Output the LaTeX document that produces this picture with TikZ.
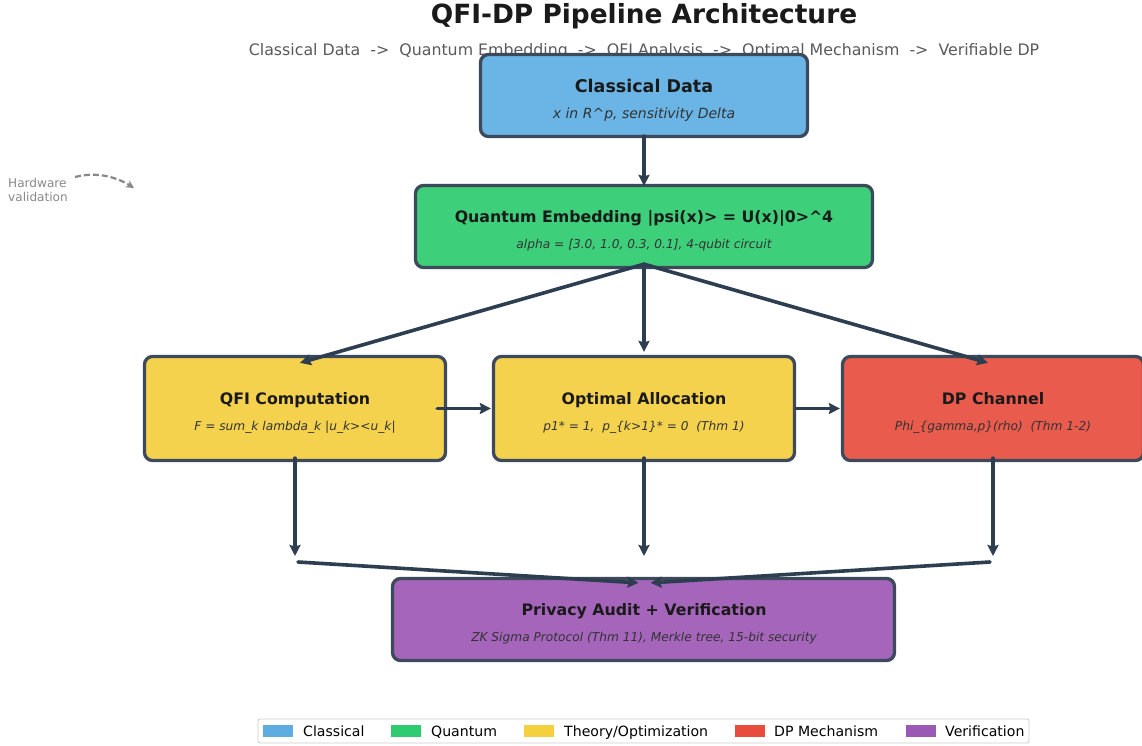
\documentclass[tikz,border=0pt]{standalone}
\usepackage{fontspec}
\setmainfont{DejaVu Sans}
\usetikzlibrary{arrows.meta,calc}
\definecolor{cClass}{HTML}{6AB4E6}
\definecolor{cQuant}{HTML}{3ECF7A}
\definecolor{cTheory}{HTML}{F4D24E}
\definecolor{cDP}{HTML}{E85B4D}
\definecolor{cVer}{HTML}{A465BB}
\definecolor{lClass}{HTML}{5DADE2}
\definecolor{lQuant}{HTML}{2ECC71}
\definecolor{lTheory}{HTML}{F4D03F}
\definecolor{lDP}{HTML}{E74C3C}
\definecolor{lVer}{HTML}{9B59B6}
\definecolor{border}{HTML}{3D4A5C}
\definecolor{arrowc}{HTML}{2C3E50}
\definecolor{titlec}{HTML}{1A1A1A}
\definecolor{subc}{HTML}{5A5A5A}
\definecolor{labc}{HTML}{333333}
\definecolor{notec}{HTML}{888888}
\tikzset{
  stagebox/.style={draw=border, line width=3.3pt, rounded corners=8pt, inner sep=0pt},
  boxtitle/.style={font=\bfseries\fontsize{15.8}{19}\selectfont, text=titlec, inner sep=0pt, text height=11.5pt, text depth=0pt},
  boxsub/.style={font=\itshape\fontsize{12.2}{15}\selectfont, text=labc, inner sep=0pt, text height=8.9pt, text depth=0pt},
  flow/.style={draw=arrowc, line width=3.6pt, line cap=round, -{Stealth[length=11pt,width=11pt,inset=1.5pt]}},
  legpatch/.style={minimum width=30pt, minimum height=12pt, inner sep=0pt},
  legtext/.style={font=\fontsize{14.1}{16}\selectfont, anchor=west, inner sep=0pt, text=black, text height=10.3pt, text depth=0pt},
}
\begin{document}
\begin{tikzpicture}[x=1pt,y=-1pt]
\useasboundingbox (0,0) rectangle (1142,746);
\fill[white] (0,0) rectangle (1142,746);
% title
\node[font=\bfseries\fontsize{26.4}{30}\selectfont, text=titlec, inner sep=0pt, text height=19.3pt, text depth=0pt] (title) at (644,14) {QFI-DP Pipeline Architecture};
\node[font=\fontsize{15.8}{18}\selectfont, text=subc, inner sep=0pt, text height=11.5pt, text depth=0pt] (subtitle) at (644,50) {Classical Data\ \ ->\ \ Quantum Embedding\ \ ->\ \ QFI Analysis\ \ ->\ \ Optimal Mechanism\ \ ->\ \ Verifiable DP};
% boxes
\node[stagebox, fill=cClass, minimum width=327pt, minimum height=82pt] (cd) at (644,95.5) {};
\node[boxtitle, font=\bfseries\fontsize{17.5}{21}\selectfont, text height=12.8pt] (cdt) at (644,86) {Classical Data};
\node[boxsub, font=\itshape\fontsize{14}{16}\selectfont, text height=10.2pt] (cds) at (644,113) {x in R\^{}p, sensitivity Delta};

\node[stagebox, fill=cQuant, minimum width=457pt, minimum height=82pt] (qe) at (644,226.5) {};
\node[boxtitle] (qet) at (644,217) {Quantum Embedding |psi(x)> = U(x)|0>\^{}4};
\node[boxsub] (qes) at (644,244) {alpha = [3.0, 1.0, 0.3, 0.1], 4-qubit circuit};

\node[stagebox, fill=cTheory, minimum width=301pt, minimum height=104pt] (qfi) at (295,408.5) {};
\node[boxtitle] (qfit) at (295,399) {QFI Computation};
\node[boxsub] (qfis) at (295,426) {F = sum\_k lambda\_k |u\_k><u\_k|};

\node[stagebox, fill=cTheory, minimum width=301pt, minimum height=104pt] (oa) at (644,408.5) {};
\node[boxtitle] (oat) at (644,399) {Optimal Allocation};
\node[boxsub] (oas) at (644,426) {p1* = 1,\ \ p\_\{k>1\}* = 0\ \ (Thm 1)};

\node[stagebox, fill=cDP, minimum width=301pt, minimum height=104pt] (dp) at (993,408.5) {};
\node[boxtitle] (dpt) at (993,399) {DP Channel};
\node[boxsub] (dps) at (993,426) {Phi\_\{gamma,p\}(rho)\ \ (Thm 1-2)};

\node[stagebox, fill=cVer, minimum width=502pt, minimum height=82pt] (pa) at (643.5,619.5) {};
\node[boxtitle] (pat) at (644,610) {Privacy Audit + Verification};
\node[boxsub] (pas) at (644,637) {ZK Sigma Protocol (Thm 11), Merkle tree, 15-bit security};

% connectors
\draw[flow] ($(cd.south)+(0,-2)$) -- ($(qe.north)+(0,2)$);
\draw[flow] ($(qe.south)+(0,-5)$) -- ($(qfi.north)+(5,8)$);
\draw[flow] ($(qe.south)+(0,-5)$) -- ($(oa.north)+(0,-3)$);
\draw[flow] ($(qe.south)+(0,-5)$) -- ($(dp.north)+(-5,8)$);
\draw[flow] ($(qfi.east)+(-10,0)$) -- ($(oa.west)+(-1,0)$);
\draw[flow] ($(oa.east)+(0,0)$) -- ($(dp.west)+(-1,0)$);
\coordinate (d1) at (295,556);
\coordinate (d2) at (644,556);
\coordinate (d3) at (993,556);
\draw[flow] ($(qfi.south)+(0,-4)$) -- (d1);
\draw[flow] ($(oa.south)+(0,-4)$) -- (d2);
\draw[flow] ($(dp.south)+(0,-4)$) -- (d3);
\coordinate (m1) at (298,562);
\coordinate (m3) at (990,562);
\draw[flow] (m1) -- ($(pa.north)+(-5,6)$);
\draw[flow] (m3) -- ($(pa.north)+(7,6)$);
% hardware note
\node[font=\fontsize{12.1}{14}\selectfont, text=notec, align=left, anchor=west, inner sep=0pt] (hw) at (8,190) {Hardware\\validation};
\coordinate (hwa) at (75,177);
\coordinate (hwb) at (134,188);
\draw[notec, line width=2.2pt, dash pattern=on 6pt off 3pt, -{Stealth[length=8pt,width=8pt]}] (hwa) .. controls (98,171) and (118,178) .. (hwb);
% legend
\node[draw=black!20, line width=0.8pt, fill=white, rounded corners=2pt, minimum width=771pt, minimum height=24pt, inner sep=0pt] (leg) at (643.5,731) {};
\node[legpatch, fill=lClass] (p1) at (278,731) {};
\node[legtext] (t1) at (303,731) {Classical};
\node[legpatch, fill=lQuant] (p2) at (406,731) {};
\node[legtext] (t2) at (431,731) {Quantum};
\node[legpatch, fill=lTheory] (p3) at (539,731) {};
\node[legtext] (t3) at (564,731) {Theory/Optimization};
\node[legpatch, fill=lDP] (p4) at (750,731) {};
\node[legtext] (t4) at (774,731) {DP Mechanism};
\node[legpatch, fill=lVer] (p5) at (921,731) {};
\node[legtext] (t5) at (945,731) {Verification};
\end{tikzpicture}
\end{document}
